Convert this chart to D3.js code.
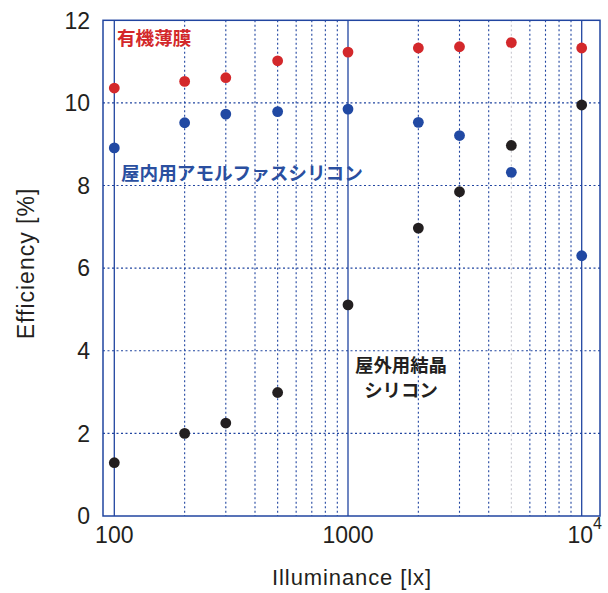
<!DOCTYPE html>
<html><head><meta charset="utf-8">
<script src="https://cdn.jsdelivr.net/npm/d3@7"></script>
<style>body{margin:0;background:#fff}svg{display:block}</style>
</head><body>
<svg id="c" width="608" height="593"></svg>
<script>
const illum = [100,200,300,500,1000,2000,3000,5000,10000];
const organic = [10.36,10.52,10.61,11.02,11.23,11.33,11.36,11.46,11.33];
const amorph = [8.91,9.52,9.73,9.79,9.85,9.53,9.21,8.32,6.30];
const crystal = [1.29,2.00,2.25,2.99,5.11,6.97,7.85,8.97,9.95];
const yTicks = [0,2,4,6,8,10,12];
const xMajor = [100,1000,10000];
const xMinor = [200,300,400,500,600,700,800,900,2000,3000,4000,5000,6000,7000,8000,9000];
const labels = {organic:"有機薄膜", amorph:"屋内用アモルファスシリコン", crystal:["屋外用結晶","シリコン"]};

const svg = d3.select("#c");
const L=103, R=600, T=20.3, B=516;
const x = d3.scaleLog().domain([100,10000]).range([114.3,581.7]);
const y = d3.scaleLinear().domain([0,12]).range([B,T]);
const gridBlue="#2145a0";
const latin="'Liberation Sans', Arial, sans-serif";
const cjk="'Noto Sans CJK JP', sans-serif";

// horizontal grid
svg.append("g").selectAll("line").data(yTicks.filter(d=>d>0&&d<12)).join("line")
  .attr("x1",L).attr("x2",R).attr("y1",d=>y(d)).attr("y2",d=>y(d))
  .attr("stroke",gridBlue).attr("stroke-width",1.1).attr("stroke-dasharray","2,2.5");
// minor vertical
svg.append("g").selectAll("line").data(xMinor).join("line")
  .attr("x1",d=>x(d)).attr("x2",d=>x(d)).attr("y1",T).attr("y2",B)
  .attr("stroke",d=>d===5000?"#c8c8d0":gridBlue).attr("stroke-width",1.1).attr("stroke-dasharray","2,2.5");
// major vertical
svg.append("g").selectAll("line").data(xMajor).join("line")
  .attr("x1",d=>x(d)).attr("x2",d=>x(d)).attr("y1",T).attr("y2",B)
  .attr("stroke",gridBlue).attr("stroke-width",1.3);
// frame
svg.append("rect").attr("x",L).attr("y",T).attr("width",R-L).attr("height",B-T)
  .attr("fill","none").attr("stroke",gridBlue).attr("stroke-width",1.5);

// y tick labels
svg.append("g").selectAll("text").data(yTicks).join("text")
  .attr("x",90).attr("y",d=>y(d)).attr("dy","0.36em").attr("text-anchor","end")
  .attr("font-family",latin).attr("font-size",23).attr("fill","#231f20").text(d=>d);
// x tick labels
const xl = svg.append("g").selectAll("text").data(xMajor).join("text")
  .attr("x",d=>x(d)).attr("y",543).attr("text-anchor","middle")
  .attr("font-family",latin).attr("font-size",23).attr("fill","#231f20");
xl.each(function(d){
  const t=d3.select(this);
  if(d===10000){ t.append("tspan").text("10"); t.append("tspan").attr("dy",-14).attr("font-size",16).text("4"); t.attr("x",x(d)+3);}
  else t.text(d);
});

// axis titles
svg.append("text").attr("x",352).attr("y",585).attr("text-anchor","middle")
  .attr("font-family",latin).attr("font-size",22).attr("letter-spacing",0.9).attr("fill","#231f20").text("Illuminance [lx]");
svg.append("text").attr("transform","translate(34,263.5) rotate(-90)").attr("text-anchor","middle")
  .attr("font-family",latin).attr("font-size",23).attr("letter-spacing",1).attr("fill","#231f20").text("Efficiency [%]");

// points
const series=[{v:organic,c:"#d3282b"},{v:amorph,c:"#2149a3"},{v:crystal,c:"#231f20"}];
series.forEach(s=>{
  svg.append("g").selectAll("circle").data(illum.map((d,i)=>[d,s.v[i]])).join("circle")
    .attr("cx",d=>x(d[0])).attr("cy",d=>y(d[1])).attr("r",5.4).attr("fill",s.c);
});

// labels
svg.append("text").attr("x",117).attr("y",44.5).attr("font-family",cjk).attr("font-weight",700)
  .attr("font-size",18.6).attr("fill","#d3282b").text(labels.organic);
svg.append("text").attr("x",121).attr("y",179.5).attr("font-family",cjk).attr("font-weight",700)
  .attr("font-size",18.6).attr("fill","#2a4fa0").text(labels.amorph);
svg.append("g").selectAll("text").data(labels.crystal).join("text")
  .attr("x",401).attr("y",(d,i)=>372+i*25).attr("text-anchor","middle").attr("font-family",cjk).attr("font-weight",700)
  .attr("font-size",18.4).attr("fill","#231f20").text(d=>d);
</script>
</body></html>
